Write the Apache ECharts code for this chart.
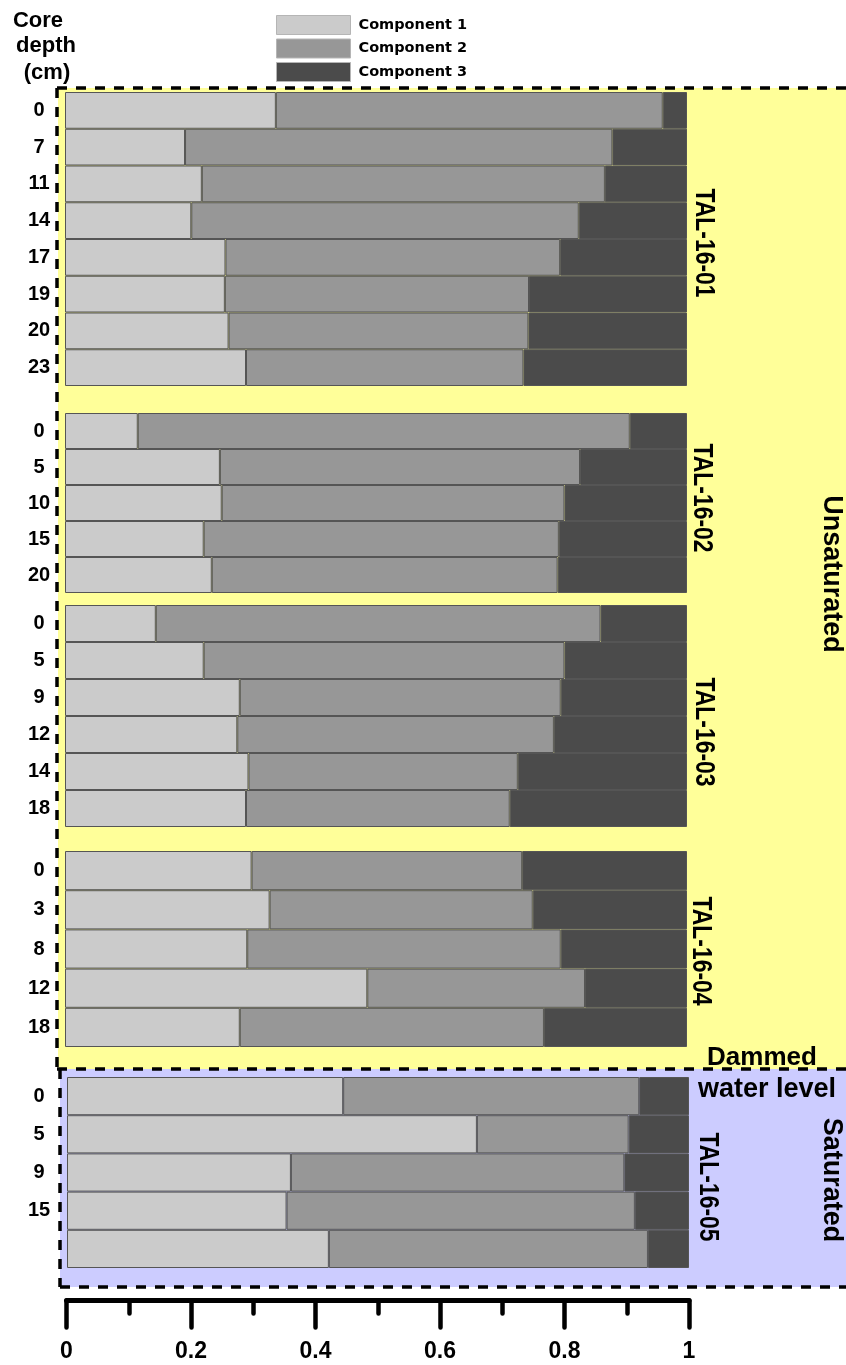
<!DOCTYPE html>
<html>
<head>
<meta charset="utf-8">
<script src="https://cdn.jsdelivr.net/npm/echarts@6/dist/echarts.min.js"></script>
<style>
  html, body { margin: 0; padding: 0; background: #ffffff; }
  #chart { width: 846px; height: 1365px; }
</style>
</head>
<body>
<div id="chart"></div>
<script>
// Component fractions per core, top of core first (each row sums to 1)
const components = ['Component 1', 'Component 2', 'Component 3'];
const coreNames = ['TAL-16-01', 'TAL-16-02', 'TAL-16-03', 'TAL-16-04', 'TAL-16-05'];

const depths01 = ['0', '7', '11', '14', '17', '19', '20', '23'];
const comp1_01 = [0.339, 0.193, 0.220, 0.203, 0.258, 0.257, 0.263, 0.291];
const comp2_01 = [0.622, 0.687, 0.648, 0.623, 0.538, 0.489, 0.482, 0.446];
const comp3_01 = [0.039, 0.120, 0.132, 0.174, 0.204, 0.254, 0.255, 0.263];

const depths02 = ['0', '5', '10', '15', '20'];
const comp1_02 = [0.117, 0.249, 0.252, 0.223, 0.236];
const comp2_02 = [0.791, 0.579, 0.551, 0.571, 0.556];
const comp3_02 = [0.092, 0.172, 0.197, 0.206, 0.208];

const depths03 = ['0', '5', '9', '12', '14', '18'];
const comp1_03 = [0.146, 0.223, 0.281, 0.277, 0.295, 0.291];
const comp2_03 = [0.715, 0.580, 0.516, 0.509, 0.433, 0.424];
const comp3_03 = [0.139, 0.197, 0.203, 0.214, 0.272, 0.285];

const depths04 = ['0', '3', '8', '12', '18'];
const comp1_04 = [0.300, 0.329, 0.293, 0.486, 0.281];
const comp2_04 = [0.435, 0.423, 0.504, 0.350, 0.489];
const comp3_04 = [0.265, 0.248, 0.203, 0.164, 0.230];

const depths05 = ['0', '5', '9', '15', ''];
const comp1_05 = [0.444, 0.659, 0.360, 0.353, 0.421];
const comp2_05 = [0.476, 0.244, 0.536, 0.560, 0.513];
const comp3_05 = [0.080, 0.097, 0.104, 0.087, 0.066];

const cores = [
  { depths: depths01, values: [comp1_01, comp2_01, comp3_01] },
  { depths: depths02, values: [comp1_02, comp2_02, comp3_02] },
  { depths: depths03, values: [comp1_03, comp2_03, comp3_03] },
  { depths: depths04, values: [comp1_04, comp2_04, comp3_04] },
  { depths: depths05, values: [comp1_05, comp2_05, comp3_05] }
];

// Layout of each core panel: grid box, depth-label shift, core-name position
const panels = [
  { left: 65, top: 92,   height: 294, shift: 0,  nameX: 703, nameY: 243 },
  { left: 65, top: 413,  height: 180, shift: 11, nameX: 701, nameY: 498 },
  { left: 65, top: 605,  height: 222, shift: 11, nameX: 703, nameY: 732 },
  { left: 65, top: 851,  height: 196, shift: 11, nameX: 700, nameY: 951 },
  { left: 67, top: 1077, height: 191, shift: 11, nameX: 707, nameY: 1187 }
];

const colors = ['#cbcbcb', '#979797', '#4b4b4b'];
const FONT = "'Liberation Sans', Arial, sans-serif";

const grid = [], xAxis = [], yAxis = [], series = [];

panels.forEach((p, i) => {
  grid.push({ left: p.left, top: p.top, width: 622, height: p.height });
  xAxis.push({ gridIndex: i, type: 'value', min: 0, max: 1, show: false });
  yAxis.push({
    gridIndex: i, type: 'category', inverse: true, data: cores[i].depths,
    axisLine: { show: false }, axisTick: { show: false }, splitLine: { show: false },
    axisLabel: {
      interval: 0, align: 'center', margin: p.left - 39,
      padding: [p.shift * 2, 0, 0, 0],
      fontFamily: FONT, fontWeight: 'bold', fontSize: 20, color: '#000'
    }
  });
  components.forEach((name, k) => {
    series.push({
      type: 'bar', name: name, xAxisIndex: i, yAxisIndex: i, stack: 'core' + i,
      barCategoryGap: '0%', data: cores[i].values[k],
      itemStyle: { color: colors[k], borderColor: '#555555', borderWidth: 1 },
      emphasis: { disabled: true }
    });
  });
});

// Shared fraction scale below the panels
grid.push({ left: 66.5, width: 622.5, top: 1290, height: 10.5 });
xAxis.push({
  gridIndex: 5, type: 'value', min: 0, max: 1, interval: 0.2, position: 'bottom',
  axisLine: { show: true, lineStyle: { color: '#000', width: 5, cap: 'round' } },
  axisTick: { show: true, length: 27, lineStyle: { color: '#000', width: 4.5, cap: 'round' } },
  minorTick: { show: true, splitNumber: 2, length: 13, lineStyle: { color: '#000', width: 4.5, cap: 'round' } },
  splitLine: { show: false }, minorSplitLine: { show: false },
  axisLabel: { margin: 40, fontFamily: FONT, fontWeight: 'bold', fontSize: 23, color: '#000' }
});
yAxis.push({ gridIndex: 5, type: 'value', show: false });

const dash = { stroke: '#000', lineWidth: 3.5, lineDash: [10, 9] };
const graphics = [
  // unsaturated and saturated zones
  { type: 'rect', z: -20, shape: { x: 58, y: 88, width: 788, height: 981 }, style: { fill: '#ffff99' } },
  { type: 'rect', z: -20, shape: { x: 60, y: 1069, width: 786, height: 218 }, style: { fill: '#ccccff' } },
  // dashed zone outlines
  { type: 'line', z: -10, shape: { x1: 57, y1: 88, x2: 846, y2: 88 }, style: dash },
  { type: 'line', z: -10, shape: { x1: 57, y1: 88, x2: 57, y2: 1069 }, style: dash },
  { type: 'line', z: -10, shape: { x1: 57, y1: 1069, x2: 846, y2: 1069 }, style: dash },
  { type: 'line', z: -10, shape: { x1: 60, y1: 1069, x2: 60, y2: 1287 }, style: dash },
  { type: 'line', z: -10, shape: { x1: 60, y1: 1287, x2: 846, y2: 1287 }, style: dash },
  // depth axis title
  { type: 'text', z: 50, x: 38, y: 21, style: { text: 'Core', x: 0, y: 0, align: 'center', verticalAlign: 'middle', font: 'bold 22px ' + FONT, fill: '#000' } },
  { type: 'text', z: 50, x: 46, y: 46, style: { text: 'depth', x: 0, y: 0, align: 'center', verticalAlign: 'middle', font: 'bold 22px ' + FONT, fill: '#000' } },
  { type: 'text', z: 50, x: 47, y: 73, style: { text: '(cm)', x: 0, y: 0, align: 'center', verticalAlign: 'middle', font: 'bold 22px ' + FONT, fill: '#000' } },
  // zone labels
  { type: 'text', z: 50, x: 831, y: 574, rotation: -Math.PI / 2, style: { text: 'Unsaturated', x: 0, y: 0, align: 'center', verticalAlign: 'middle', font: 'bold 27px ' + FONT, fill: '#000' } },
  { type: 'text', z: 50, x: 831, y: 1180, rotation: -Math.PI / 2, style: { text: 'Saturated', x: 0, y: 0, align: 'center', verticalAlign: 'middle', font: 'bold 27px ' + FONT, fill: '#000' } },
  { type: 'text', z: 50, x: 762, y: 1058, style: { text: 'Dammed', x: 0, y: 0, align: 'center', verticalAlign: 'middle', font: 'bold 26px ' + FONT, fill: '#000' } },
  { type: 'text', z: 50, x: 767, y: 1090, style: { text: 'water level', x: 0, y: 0, align: 'center', verticalAlign: 'middle', font: 'bold 27px ' + FONT, fill: '#000' } }
];
// core names beside each panel
panels.forEach((p, i) => {
  graphics.push({
    type: 'text', z: 50, x: p.nameX, y: p.nameY, rotation: -Math.PI / 2, scaleX: 0.85,
    style: { text: coreNames[i], x: 0, y: 0, align: 'center', verticalAlign: 'middle', font: 'bold 27px ' + FONT, fill: '#000' }
  });
});

const chart = echarts.init(document.getElementById('chart'), null, { renderer: 'canvas' });
chart.setOption({
  animation: false,
  backgroundColor: '#ffffff',
  legend: {
    data: components, orient: 'vertical', left: 276, top: 15, padding: 0,
    itemWidth: 74, itemHeight: 19, itemGap: 3.5, icon: 'rect', selectedMode: false,
    itemStyle: { borderColor: '#b5b5b5', borderWidth: 1 },
    textStyle: { fontFamily: 'DejaVu Sans', fontWeight: 'bold', fontSize: 14.5, color: '#000', padding: [0, 0, 0, 3] }
  },
  grid: grid, xAxis: xAxis, yAxis: yAxis, series: series,
  graphic: graphics
});
</script>
</body>
</html>
